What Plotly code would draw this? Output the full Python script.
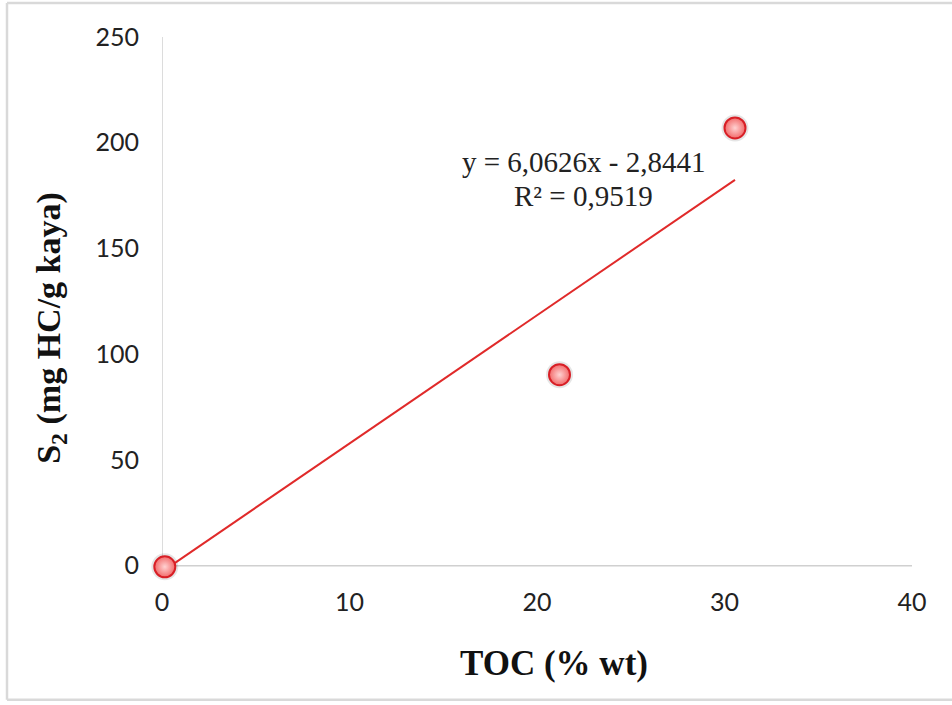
import plotly.graph_objects as go

# Data
toc = [0.15, 21.2, 30.56]
s2 = [-0.5, 90.3, 207.0]
slope = 6.0626
intercept = -2.8441
eq_text = "y = 6,0626x - 2,8441"
r2_text = "R² = 0,9519"
x_ticks = [0, 10, 20, 30, 40]
y_ticks = [0, 50, 100, 150, 200, 250]

W, H = 952, 705
Y_MIN, Y_MAX = -2.5, 250
px_per_y = 529 / 250
plot_top = 37
plot_bottom = 566 + (0 - Y_MIN) * px_per_y
L = 162
pw = 750
R = W - L - pw
T = plot_top
ph = plot_bottom - plot_top
B = H - plot_bottom


def px_to_paper_x(px):
    return (px - L) / pw


def px_to_paper_y(py):
    return (plot_bottom - py) / ph


trend_x = [min(toc), max(toc)]
trend_y = [slope * v + intercept for v in trend_x]

fig = go.Figure()

# soft shadow under markers
fig.add_trace(go.Scatter(
    x=toc, y=s2, mode="markers",
    marker=dict(size=27, color="rgba(0,0,0,0.10)", line=dict(width=0)),
    hoverinfo="skip", showlegend=False, cliponaxis=False,
))

fig.add_trace(go.Scatter(
    x=trend_x, y=trend_y, mode="lines",
    line=dict(color="#e02a2a", width=2),
    showlegend=False, cliponaxis=False,
))

fig.add_trace(go.Scatter(
    x=toc, y=s2, mode="markers",
    marker=dict(size=21, color="#f26a6a",
                gradient=dict(type="radial", color="#ffd2d2"),
                line=dict(color="#d81f26", width=2)),
    showlegend=False, cliponaxis=False,
))

fig.update_xaxes(
    range=[0, 40], tickvals=x_ticks, showgrid=False,
    showline=False, zeroline=False, ticks="",
    tickfont=dict(family="Lato", size=25, color="#222222"),
    ticklabelstandoff=14,
)
fig.update_yaxes(
    range=[Y_MIN, Y_MAX], tickvals=y_ticks, showgrid=False,
    showline=False, zeroline=False, ticks="",
    tickfont=dict(family="Lato", size=25, color="#222222"),
    ticklabelstandoff=22,
)

shapes = [
    # y axis line
    dict(type="line", xref="x", yref="y", x0=0, x1=0, y0=0, y1=250,
         line=dict(color="#d0d0d0", width=1.5), layer="below"),
    # x axis line at zero
    dict(type="line", xref="paper", yref="y", x0=0, x1=1, y0=0, y1=0,
         line=dict(color="#d0d0d0", width=1.5), layer="below"),
    # outer chart border (left, top, bottom)
    dict(type="line", xref="paper", yref="paper",
         x0=px_to_paper_x(7), x1=px_to_paper_x(7),
         y0=px_to_paper_y(3), y1=px_to_paper_y(700),
         line=dict(color="#d9d9d9", width=2.5)),
    dict(type="line", xref="paper", yref="paper",
         x0=px_to_paper_x(7), x1=px_to_paper_x(960),
         y0=px_to_paper_y(3), y1=px_to_paper_y(3),
         line=dict(color="#d9d9d9", width=2.5)),
    dict(type="line", xref="paper", yref="paper",
         x0=px_to_paper_x(7), x1=px_to_paper_x(960),
         y0=px_to_paper_y(700), y1=px_to_paper_y(700),
         line=dict(color="#d9d9d9", width=2.5)),
]

annotations = [
    dict(text=eq_text, xref="paper", yref="paper",
         x=px_to_paper_x(584), y=px_to_paper_y(162),
         showarrow=False, xanchor="center", yanchor="middle",
         font=dict(family="Liberation Serif", size=29, color="#222222")),
    dict(text=r2_text, xref="paper", yref="paper",
         x=px_to_paper_x(583), y=px_to_paper_y(196),
         showarrow=False, xanchor="center", yanchor="middle",
         font=dict(family="Liberation Serif", size=29, color="#222222")),
    dict(text="<b>TOC (% wt)</b>", xref="paper", yref="paper",
         x=px_to_paper_x(554), y=px_to_paper_y(664),
         showarrow=False, xanchor="center", yanchor="middle",
         font=dict(family="Liberation Serif", size=35, color="#111111")),
    dict(text="<b>S<sub>2</sub> (mg HC/g kaya)</b>", xref="paper", yref="paper",
         x=px_to_paper_x(51), y=px_to_paper_y(328),
         showarrow=False, xanchor="center", yanchor="middle", textangle=-90,
         font=dict(family="Liberation Serif", size=34, color="#111111")),
]

fig.update_layout(
    width=W, height=H,
    margin=dict(l=L, r=R, t=T, b=B),
    paper_bgcolor="white", plot_bgcolor="white",
    shapes=shapes, annotations=annotations,
    showlegend=False,
)

fig.write_html(
    "out.html",
    config={"displayModeBar": False},
    post_script="document.body.style.margin='0';document.body.style.overflow='hidden';",
)
